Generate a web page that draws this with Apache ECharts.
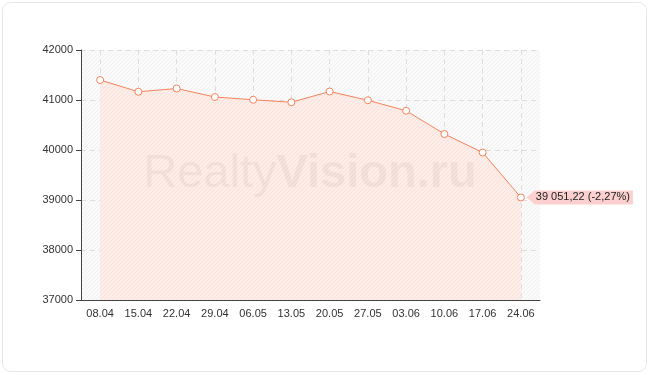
<!DOCTYPE html>
<html><head><meta charset="utf-8">
<script src="https://cdn.jsdelivr.net/npm/echarts@6/dist/echarts.min.js"></script>
<style>html,body{margin:0;padding:0;background:#fff}#c{width:650px;height:375px}</style>
</head><body><div id="c"></div>
<script>
var categories = ['08.04','15.04','22.04','29.04','06.05','13.05','20.05','27.05','03.06','10.06','17.06','24.06'];
var values = [41400, 41165, 41230, 41060, 41005, 40955, 41170, 40995, 40785, 40320, 39950, 39051.22];
var yTicks = [37000, 38000, 39000, 40000, 41000, 42000];
var lastLabel = '39 051,22 (-2,27%)';

function hatch(bg, fg) {
  var c = document.createElement('canvas');
  c.width = 4; c.height = 4;
  var g = c.getContext('2d');
  g.fillStyle = bg; g.fillRect(0, 0, 4, 4);
  g.fillStyle = fg;
  for (var i = 0; i < 4; i++) g.fillRect(i, 3 - i, 1, 1);
  return {image: c, repeat: 'repeat'};
}

var chart = echarts.init(document.getElementById('c'));
var font = 'Liberation Sans';
chart.setOption({
  animation: false,
  textStyle: {fontFamily: font},
  graphic: [
    {type: 'rect', shape: {x: 2.5, y: 2.5, width: 644, height: 369, r: 8}, style: {fill: 'none', stroke: '#e6e6e6', lineWidth: 1}, z: -10},
    {type: 'text', x: 310, y: 174, z: 3, style: {
      text: '{a|Realty}{b|Vision.ru}', align: 'center', verticalAlign: 'middle',
      rich: {
        a: {fontFamily: font, fontSize: 47, fill: 'rgba(110,90,90,0.08)'},
        b: {fontFamily: font, fontSize: 47, fontWeight: 'bold', fill: 'rgba(110,90,90,0.08)'}
      }
    }}
  ],
  grid: {left: 81, right: 110, top: 50, bottom: 75, show: true, borderWidth: 0,
    backgroundColor: hatch('#fafafa', '#f1f1f1')},
  xAxis: {
    type: 'category', data: categories, boundaryGap: true,
    axisLine: {lineStyle: {color: '#444', width: 1}},
    axisTick: {alignWithLabel: true, length: 5, lineStyle: {color: '#444'}},
    axisLabel: {color: '#333', fontSize: 11, fontFamily: font, margin: 8},
    splitLine: {show: true, alignWithLabel: true, lineStyle: {color: '#e2dcdc', type: [5, 4], width: 1}}
  },
  yAxis: {
    type: 'value', min: yTicks[0], max: yTicks[yTicks.length - 1], interval: 1000,
    axisLine: {show: true, lineStyle: {color: '#444', width: 1}},
    axisTick: {show: true, length: 5, lineStyle: {color: '#444'}},
    axisLabel: {color: '#333', fontSize: 11, fontFamily: font, margin: 8, formatter: function (v) { return String(v); }},
    splitLine: {show: true, lineStyle: {color: '#e2dcdc', type: [5, 4], width: 1}}
  },
  series: [{
    type: 'line', data: values, z: 2,
    symbol: 'circle', symbolSize: 7, showAllSymbol: true,
    lineStyle: {color: '#f5845c', width: 1},
    itemStyle: {color: '#fff', borderColor: '#f5845c', borderWidth: 1},
    areaStyle: {color: hatch('#fdede8', '#fae2da'), opacity: 1},
    markPoint: {
      data: [{coord: [categories.length - 1, values[values.length - 1]], value: lastLabel}],
      symbol: 'path://M0,7 L8,0 L106,0 L106,14 L8,14 Z',
      symbolKeepAspect: false,
      symbolSize: [106, 14],
      symbolOffset: [59, 0],
      itemStyle: {color: '#fbd0cf', borderWidth: 0},
      label: {show: true, position: 'inside', offset: [3, 0], color: '#222', fontSize: 11, fontFamily: font,
        formatter: function (p) { return p.value; }},
      silent: true
    }
  }]
});
</script></body></html>
